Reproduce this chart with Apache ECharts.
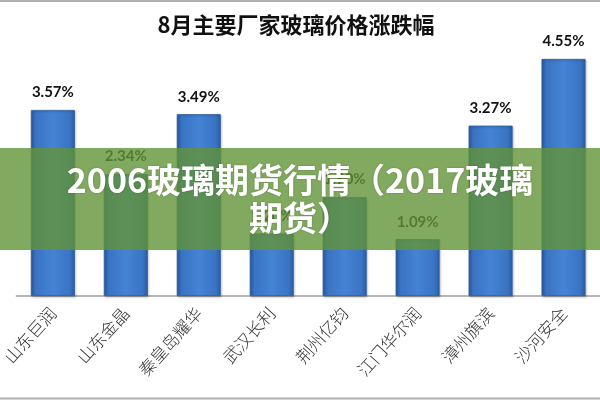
<!DOCTYPE html>
<html>
<head>
<meta charset="utf-8">
<script src="https://cdn.jsdelivr.net/npm/echarts@6/dist/echarts.min.js"></script>
<style>html,body{margin:0;padding:0;background:#fff}#c{width:600px;height:400px}</style>
</head>
<body>
<div id="c"></div>
<script>
var categories = ['山东巨润', '山东金晶', '秦皇岛耀华', '武汉长利', '荆州亿钧', '江门华尔润', '漳州旗滨', '沙河安全'];
var values = [3.57, 2.34, 3.49, 1.20, 1.90, 1.09, 3.27, 4.55];
var titleText = '8月主要厂家玻璃价格涨跌幅';
var bannerLines = ['2006玻璃期货行情（2017玻璃', '期货）'];

var chart = echarts.init(document.getElementById('c'), null, {renderer: 'canvas'});
chart.setOption({
  backgroundColor: '#fff',
  animation: false,
  title: {
    text: titleText,
    left: 291, top: 20, textAlign: 'center', textVerticalAlign: 'middle',
    textStyle: {fontFamily: 'Noto Sans CJK SC', fontWeight: 'bold', fontSize: 22, color: '#111'}
  },
  grid: {left: 12.5, width: 599, top: 35.5, bottom: 104},
  xAxis: {
    type: 'category', data: categories,
    axisLine: {lineStyle: {color: '#a0a0a0', width: 1.5}},
    axisTick: {show: false},
    axisLabel: {rotate: 48, margin: 14, interval: 0, fontFamily: 'Noto Sans CJK SC', fontWeight: 300, fontSize: 17, color: '#333'}
  },
  yAxis: {type: 'value', min: 0, max: 5, show: false, splitLine: {show: false}},
  series: [{
    type: 'bar', data: values, barWidth: 44,
    itemStyle: {
      color: new echarts.graphic.LinearGradient(0, 0, 1, 0, [
        {offset: 0, color: '#2a5da3'},
        {offset: 0.12, color: '#3a74c4'},
        {offset: 0.5, color: '#4583d4'},
        {offset: 0.88, color: '#3a74c4'},
        {offset: 1, color: '#2a5da3'}
      ]),
      borderColor: '#2d5e9e', borderWidth: 0.8,
      shadowColor: 'rgba(0,0,0,0.25)', shadowBlur: 2, shadowOffsetX: 1, shadowOffsetY: 1
    },
    label: {
      show: true, position: 'top', distance: 10,
      formatter: function (p) { return p.value.toFixed(2) + '%'; },
      fontFamily: 'Lato', fontWeight: 'bold', fontSize: 15, color: '#111'
    }
  }],
  graphic: [
    {type: 'line', z: 100, shape: {x1: 0, y1: 1, x2: 600, y2: 1}, style: {stroke: '#b0b0b0', lineWidth: 2}},
    {type: 'line', z: 100, shape: {x1: 0, y1: 398.5, x2: 600, y2: 398.5}, style: {stroke: '#b0b0b0', lineWidth: 2}},
    {type: 'rect', z: 100, shape: {x: 0, y: 148, width: 600, height: 102}, style: {fill: 'rgba(98,148,55,0.8)'}},
    {type: 'text', z: 101, left: 'center', top: 161,
      style: {text: bannerLines.join('\n'), fill: '#fff', font: 'bold 34px "Noto Sans CJK SC"', lineHeight: 38, textAlign: 'center',
        textShadowColor: 'rgba(0,0,0,0.25)', textShadowBlur: 2}}
  ]
});
</script>
</body>
</html>
